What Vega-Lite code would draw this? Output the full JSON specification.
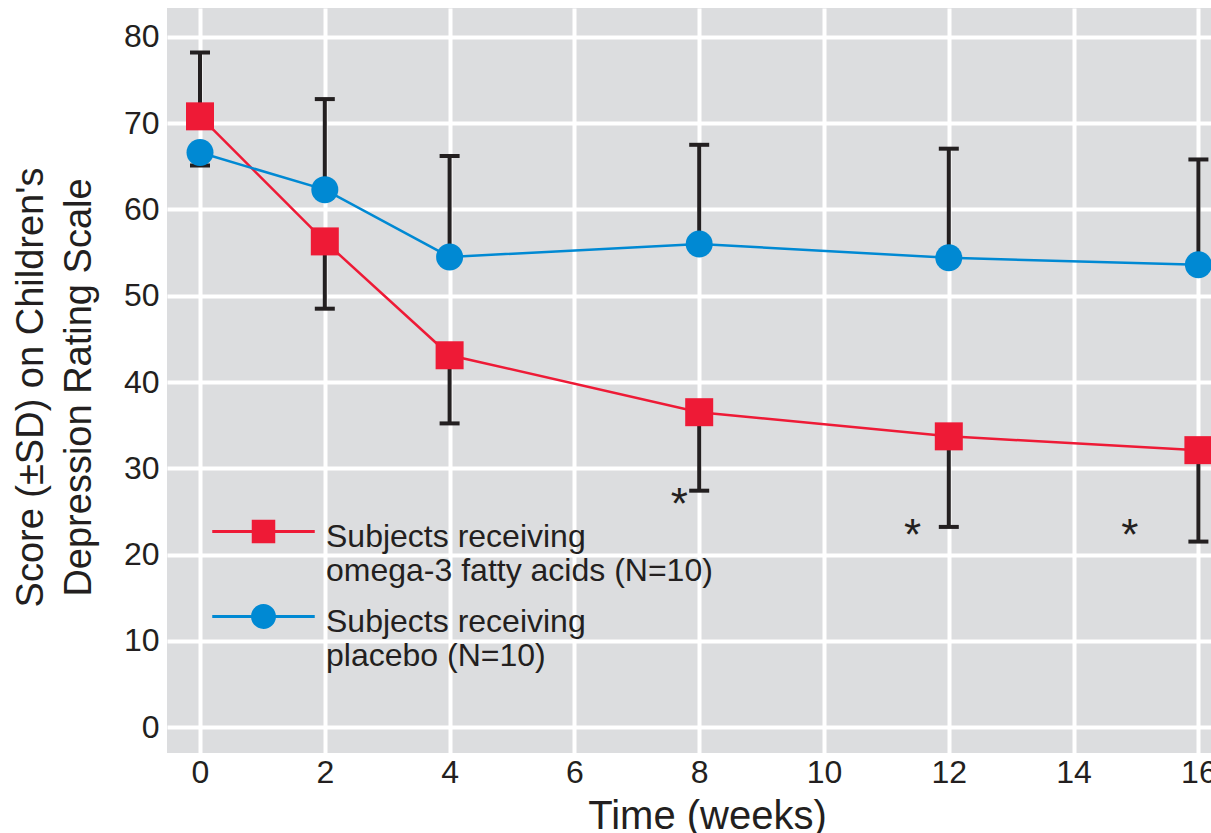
{
  "$schema": "https://vega.github.io/schema/vega-lite/v6.json",
  "width": 1044,
  "height": 745,
  "autosize": {"type": "none"},
  "padding": {"left": 167, "top": 8, "right": 0, "bottom": 80},
  "background": "white",
  "config": {
    "view": {"fill": "#DCDDDF", "stroke": null},
    "font": "Liberation Sans",
    "axis": {
      "domain": false,
      "ticks": false,
      "grid": true,
      "gridColor": "white",
      "gridWidth": 4,
      "gridOpacity": 1,
      "labelFont": "Liberation Sans",
      "labelColor": "#231F20",
      "labelFontSize": 32,
      "titleFont": "Liberation Sans",
      "titleColor": "#231F20",
      "titleFontWeight": "normal"
    }
  },
  "datasets": {
    "scores": [
      {"group": "Omega-3", "week": 0, "score": 70.8, "bound": 78.2},
      {"group": "Omega-3", "week": 2, "score": 56.3, "bound": 48.5},
      {"group": "Omega-3", "week": 4, "score": 43.1, "bound": 35.2},
      {"group": "Omega-3", "week": 8, "score": 36.5, "bound": 27.4},
      {"group": "Omega-3", "week": 12, "score": 33.7, "bound": 23.2},
      {"group": "Omega-3", "week": 16, "score": 32.1, "bound": 21.5},
      {"group": "Placebo", "week": 0, "score": 66.6, "bound": 65.1},
      {"group": "Placebo", "week": 2, "score": 62.3, "bound": 72.8},
      {"group": "Placebo", "week": 4, "score": 54.5, "bound": 66.2},
      {"group": "Placebo", "week": 8, "score": 56.0, "bound": 67.5},
      {"group": "Placebo", "week": 12, "score": 54.4, "bound": 67.05},
      {"group": "Placebo", "week": 16, "score": 53.6, "bound": 65.8}
    ],
    "stars": [
      {"week": 7.68, "y": 26.9, "mark": "*"},
      {"week": 11.42, "y": 23.3, "mark": "*"},
      {"week": 14.9, "y": 23.3, "mark": "*"}
    ]
  },
  "layer": [
    {
      "data": {"name": "scores"},
      "transform": [{"filter": "datum.group === 'Omega-3'"}],
      "mark": {"type": "line", "strokeWidth": 2.5, "color": "#EE1A36"},
      "encoding": {
        "x": {"field": "week", "type": "quantitative",
              "scale": {"domain": [-0.529, 16.202], "nice": false, "zero": false},
              "axis": {"values": [0, 2, 4, 6, 8, 10, 12, 14, 16], "format": "d", "labelPadding": 4,
                       "title": "Time (weeks)", "titleFontSize": 40,
                       "titleX": 540, "titleY": 75, "titleBaseline": "alphabetic", "titleAnchor": null, "titleAlign": "center"}},
        "y": {"field": "score", "type": "quantitative",
              "scale": {"domain": [-3.01, 83.36], "nice": false, "zero": false},
              "axis": {"values": [0, 10, 20, 30, 40, 50, 60, 70, 80], "format": "d", "labelPadding": 8,
                       "title": ["Score (\u00b1SD) on Children's", "Depression Rating Scale"],
                       "titleFontSize": 38, "titleLineHeight": 48, "titleAngle": 270,
                       "titleX": -125, "titleY": 379, "titleBaseline": "alphabetic", "titleAlign": "center"}}
      }
    },
    {
      "data": {"name": "scores"},
      "transform": [{"filter": "datum.group === 'Placebo'"}],
      "mark": {"type": "line", "strokeWidth": 2.5, "color": "#0089D3"},
      "encoding": {
        "x": {"field": "week", "type": "quantitative", "scale": {"domain": [-0.529, 16.202], "nice": false, "zero": false}},
        "y": {"field": "score", "type": "quantitative", "scale": {"domain": [-3.01, 83.36], "nice": false, "zero": false}}
      }
    },
    {
      "data": {"name": "scores"},
      "mark": {"type": "rule", "color": "#231F20", "strokeWidth": 4},
      "encoding": {
        "x": {"field": "week", "type": "quantitative", "scale": {"domain": [-0.529, 16.202], "nice": false, "zero": false}},
        "y": {"field": "score", "type": "quantitative", "scale": {"domain": [-3.01, 83.36], "nice": false, "zero": false}},
        "y2": {"field": "bound"}
      }
    },
    {
      "data": {"name": "scores"},
      "mark": {"type": "tick", "orient": "horizontal", "color": "#231F20", "size": 20, "thickness": 4, "opacity": 1},
      "encoding": {
        "x": {"field": "week", "type": "quantitative", "scale": {"domain": [-0.529, 16.202], "nice": false, "zero": false}},
        "y": {"field": "bound", "type": "quantitative", "scale": {"domain": [-3.01, 83.36], "nice": false, "zero": false}}
      }
    },
    {
      "data": {"name": "scores"},
      "transform": [{"filter": "datum.group === 'Omega-3'"}],
      "mark": {"type": "point", "filled": true, "opacity": 1, "shape": "square", "size": 784, "color": "#EE1A36"},
      "encoding": {
        "x": {"field": "week", "type": "quantitative", "scale": {"domain": [-0.529, 16.202], "nice": false, "zero": false}},
        "y": {"field": "score", "type": "quantitative", "scale": {"domain": [-3.01, 83.36], "nice": false, "zero": false}}
      }
    },
    {
      "data": {"name": "scores"},
      "transform": [{"filter": "datum.group === 'Placebo'"}],
      "mark": {"type": "point", "filled": true, "opacity": 1, "shape": "circle", "size": 729, "color": "#0089D3"},
      "encoding": {
        "x": {"field": "week", "type": "quantitative", "scale": {"domain": [-0.529, 16.202], "nice": false, "zero": false}},
        "y": {"field": "score", "type": "quantitative", "scale": {"domain": [-3.01, 83.36], "nice": false, "zero": false}}
      }
    },
    {
      "data": {"name": "scores"},
      "mark": {"type": "point", "filled": true, "size": 0, "opacity": 1},
      "encoding": {
        "x": {"field": "week", "type": "quantitative", "scale": {"domain": [-0.529, 16.202], "nice": false, "zero": false}},
        "y": {"field": "score", "type": "quantitative", "scale": {"domain": [-3.01, 83.36], "nice": false, "zero": false}},
        "shape": {"field": "group", "type": "nominal",
                  "scale": {"domain": ["Omega-3", "Placebo"],
                            "range": ["M-4.1,-1.32H4.1V-1.08H-4.1Z M-0.94,-2.14H0.94V-0.26H-0.94Z",
                                      "M-4.1,-1.32H4.1V-1.08H-4.1Z M1,-1.2A1,1 0 1,1 -1,-1.2A1,1 0 1,1 1,-1.2Z"]}},
        "color": {"field": "group", "type": "nominal",
                  "scale": {"domain": ["Omega-3", "Placebo"], "range": ["#EE1A36", "#0089D3"]},
                  "legend": {
                    "orient": "none", "legendX": 80.5, "legendY": 522.5, "direction": "vertical",
                    "title": null, "padding": 0, "rowPadding": 11,
                    "symbolSize": 625, "symbolStrokeWidth": 3, "symbolStrokeColor": "transparent", "symbolOpacity": 1,
                    "labelFont": "Liberation Sans", "labelFontSize": 32, "labelColor": "#231F20",
                    "labelOffset": 46.5, "labelLimit": 0, "labelBaseline": "alphabetic",
                    "labelExpr": "datum.value === 'Omega-3' ? ['Subjects receiving', 'omega-3 fatty acids (N=10)'] : ['Subjects receiving', 'placebo (N=10)']"
                  }}
      }
    },
    {
      "data": {"name": "stars"},
      "mark": {"type": "text", "fontSize": 44, "color": "#231F20", "baseline": "middle", "align": "center", "dy": 11},
      "encoding": {
        "x": {"field": "week", "type": "quantitative", "scale": {"domain": [-0.529, 16.202], "nice": false, "zero": false}},
        "y": {"field": "y", "type": "quantitative", "scale": {"domain": [-3.01, 83.36], "nice": false, "zero": false}},
        "text": {"field": "mark"}
      }
    }
  ]
}
